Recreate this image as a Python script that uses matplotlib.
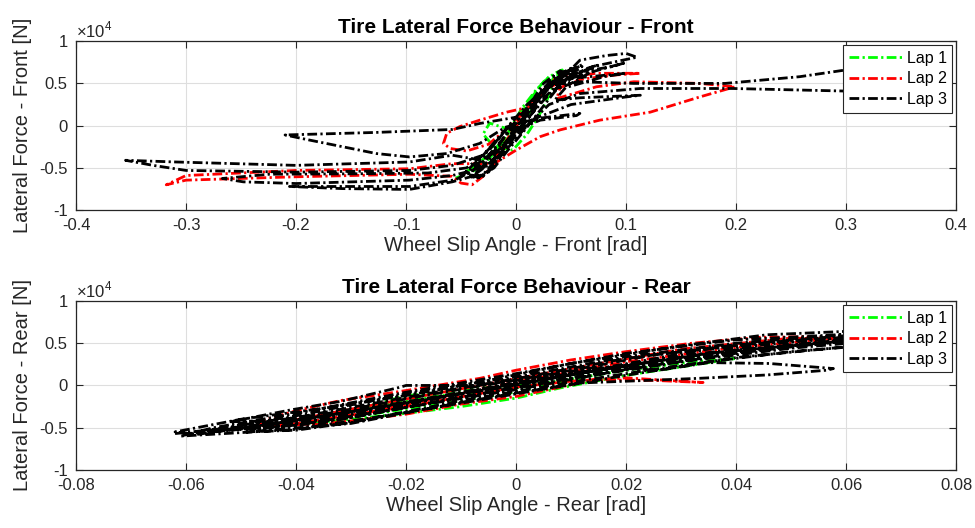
import numpy as np
import matplotlib
matplotlib.use("Agg")
import matplotlib.pyplot as plt
from matplotlib.ticker import FuncFormatter

# lap traces: (slip angle [rad], lateral force [N])
front_lap1 = [(-0.055, -6200), (-0.040, -5500), (-0.025, -4000), (-0.012, -2000), (-0.003, -200),
              (0.005, 1500), (0.015, 3500), (0.025, 5200), (0.035, 6200), (0.042, 6600), (0.038, 6000),
              (0.030, 5000), (0.020, 3200), (0.010, 1000), (0.000, -1000), (-0.005, -500), (-0.024, 300),
              (-0.030, -1000), (-0.020, -2500), (-0.003, -2900), (0.010, -1000), (0.020, 1000),
              (0.028, 3000), (0.036, 5500), (0.030, 5800), (0.018, 4200), (0.005, 2000), (-0.010, -1500),
              (-0.025, -3500), (-0.040, -5000), (-0.050, -5800)]

front_lap2 = [(-0.020, -4000), (-0.005, -1000), (0.010, 2000), (0.030, 4500), (0.050, 5800),
              (0.073, 6200), (0.113, 6200), (0.090, 6000), (0.060, 5500), (0.040, 4500), (0.037, 3200),
              (0.073, 4600), (0.107, 5200), (0.167, 5000), (0.199, 4600), (0.167, 3400), (0.122, 1600),
              (0.076, 650), (0.040, -500), (0.022, -1300), (0.000, -2900), (-0.020, -4500),
              (-0.058, -4500), (-0.097, -5100), (-0.200, -5300), (-0.300, -5900), (-0.318, -7000),
              (-0.300, -6450), (-0.200, -6050), (-0.097, -5750), (-0.058, -6000), (-0.050, -6800),
              (-0.040, -7000), (-0.030, -6000), (-0.015, -3500), (0.000, -500), (0.005, 2000),
              (-0.0085, 1600), (-0.033, 650), (-0.051, -100), (-0.063, -900), (-0.066, -2100),
              (-0.060, -2700), (-0.045, -3000), (-0.025, -2200), (-0.005, 0), (0.015, 3000),
              (0.035, 5500), (0.050, 6000)]

front_lap3 = [(-0.005, -1000), (0.010, 1500), (0.025, 4000), (0.045, 6000), (0.058, 7750),
              (0.082, 8300), (0.100, 8550), (0.110, 8100), (0.095, 7700), (0.070, 7000), (0.045, 5500),
              (0.025, 3000), (0.005, 0), (-0.015, -3000), (-0.035, -4000), (-0.058, -3500),
              (-0.097, -4300), (-0.200, -4700), (-0.309, -4300), (-0.355, -4100), (-0.330, -4700),
              (-0.300, -5300), (-0.200, -5500), (-0.097, -5300), (-0.058, -4700), (-0.030, -3500),
              (-0.010, -500), (0.010, 2500), (0.030, 4800), (0.058, 5200), (0.107, 5000), (0.190, 5000),
              (0.258, 5800), (0.300, 6600), (0.340, 7400), (0.350, 6000), (0.330, 4200), (0.298, 4100),
              (0.197, 4400), (0.113, 4400), (0.058, 3800), (0.030, 2500), (0.010, 0), (-0.010, -3000),
              (-0.030, -5000), (-0.058, -5900), (-0.097, -6450), (-0.200, -6850), (-0.248, -6650),
              (-0.267, -6250), (-0.224, -5750), (-0.150, -5700), (-0.080, -5600), (-0.045, -5000),
              (-0.025, -3000), (0.000, 1000), (-0.033, 260), (-0.058, -450), (-0.127, -800),
              (-0.210, -1100), (-0.188, -1700), (-0.127, -3300), (-0.097, -3700), (-0.063, -3300),
              (-0.033, -2100), (-0.010, -200), (0.019, 850), (0.058, 1450), (0.055, 1200), (0.022, 650),
              (0.000, -500), (-0.020, -3500), (-0.040, -6000), (-0.058, -6650), (-0.097, -7550),
              (-0.158, -7450), (-0.206, -7200), (-0.150, -7200), (-0.097, -7200), (-0.055, -6400),
              (-0.035, -5000), (-0.015, -2000), (0.005, 1000), (0.020, 3500), (0.040, 6000),
              (0.088, 7000), (0.100, 7500), (0.070, 6400), (0.050, 5600), (0.100, 6200), (0.080, 5800),
              (0.045, 4500), (0.035, 3000), (0.058, 3300), (0.113, 3600), (0.100, 3400), (0.050, 2500),
              (0.020, 1000), (-0.050, -6000), (-0.030, -3500), (-0.012, -1000), (0.000, 500),
              (0.015, 3000), (0.025, 5000), (0.040, 6500), (0.050, 6000), (0.035, 4000), (0.020, 1500),
              (0.008, -500), (-0.008, -3000), (-0.020, -5000), (-0.035, -6200), (-0.025, -5500),
              (-0.010, -2500), (0.005, 0), (0.018, 2500), (0.030, 4500), (0.048, 6500), (0.060, 7000),
              (0.040, 5200), (0.022, 2800), (0.005, -200), (-0.015, -3800), (-0.030, -6000),
              (-0.045, -5800), (-0.028, -4200), (-0.015, -2200), (-0.003, 0), (0.010, 2000),
              (0.022, 4000), (0.035, 5800), (0.050, 6800), (0.045, 6200), (0.030, 4600), (0.015, 2200),
              (0.002, -200), (-0.012, -2600), (-0.025, -4600), (-0.042, -6200), (-0.030, -5800),
              (-0.018, -4000), (-0.005, -1500), (0.008, 1200), (0.020, 3300), (0.032, 5200),
              (0.050, 6500), (0.060, 7200), (0.045, 6400), (0.030, 4800), (0.040, 5200), (0.065, 6800),
              (0.075, 7200), (0.055, 6000), (0.035, 4200), (0.050, 5000), (0.070, 6500)]

rear_lap1 = [(-0.040, -4600), (-0.030, -4000), (-0.020, -3300), (-0.010, -2500), (0.000, -1500),
             (0.008, -300), (0.020, 1200), (0.030, 2200), (0.040, 3200), (0.032, 2800), (0.020, 1800),
             (0.000, -300), (-0.015, -1300), (-0.030, -3000), (-0.020, -1200), (-0.010, -600),
             (0.005, 500), (0.025, 2600), (0.035, 3400), (0.020, 2000), (0.000, -800), (-0.020, -2800),
             (-0.035, -4200)]

rear_lap2 = [(0.058, 5800), (0.0444, 5700), (0.032, 5000), (0.020, 4000), (0.0098, 3000), (0.000, 1800),
             (-0.0065, 850), (-0.020, -600), (-0.032, -1800), (-0.040, -3000), (-0.048, -4500),
             (-0.044, -4750), (-0.036, -4600), (-0.030, -4200), (-0.020, -3400), (-0.010, -2200),
             (0.000, -1300), (0.008, -200), (0.014, 650), (0.025, 600), (0.034, 350), (0.030, 500),
             (0.020, 900), (0.010, 500), (0.000, -200), (-0.020, -2500), (-0.040, -4500), (-0.046, -4800),
             (-0.035, -4500), (-0.020, -2200), (0.000, 400), (0.020, 2800), (0.040, 4500), (0.058, 5500),
             (0.050, 5600), (0.030, 4300), (0.010, 2000), (-0.010, -400), (-0.030, -2800), (-0.042, -4300)]

rear_lap3 = [(-0.062, -5700), (-0.040, -4200), (-0.020, -2000), (0.000, 200), (0.020, 2400), (0.040, 4200),
             (0.062, 5500), (0.065, 6200), (0.040, 5400), (0.020, 3800), (0.000, 1400), (-0.020, -800),
             (-0.040, -3300), (-0.055, -5000), (-0.061, -6000), (-0.040, -5200), (-0.020, -3200),
             (0.000, -1000), (0.020, 1200), (0.040, 3300), (0.062, 4700), (0.063, 5800), (0.040, 4800),
             (0.020, 3200), (0.000, 800), (-0.020, -1400), (-0.040, -3800), (-0.050, -4700),
             (-0.048, -5200), (-0.030, -3800), (-0.010, -1400), (0.010, 800), (0.030, 2800), (0.050, 4400),
             (0.064, 5200), (0.062, 6000), (0.045, 5100), (0.025, 3600), (0.005, 1200), (-0.015, -1000),
             (-0.035, -3400), (-0.045, -4200), (-0.052, -4300), (-0.041, -2900), (-0.032, -1900),
             (-0.021, -200), (-0.020, 0), (-0.007, 0), (0.000, 600), (0.015, 2200), (0.026, 1800),
             (0.035, 2700), (0.046, 2600), (0.0577, 2000), (0.0565, 1800), (0.0456, 1240), (0.0335, 850),
             (0.026, 650), (0.012, 300), (0.000, -900), (-0.010, -2000), (-0.030, -4500), (-0.049, -5500),
             (-0.040, -5300), (-0.030, -4400), (-0.010, -1800), (0.010, 400), (0.030, 2400), (0.050, 4000),
             (0.0595, 4500), (0.066, 5000), (0.060, 6400), (0.0456, 6000), (0.030, 4700), (0.010, 2600),
             (-0.005, 600), (-0.020, -1200), (-0.035, -2700), (-0.050, -4000), (-0.062, -5500),
             (-0.058, -5800), (-0.045, -4600), (-0.025, -2600), (-0.005, -500), (0.015, 1800),
             (0.035, 3800), (0.055, 5000), (0.066, 5600), (0.064, 5400), (0.045, 4400), (0.025, 2600),
             (0.005, 400), (-0.015, -2000), (-0.035, -4400), (-0.045, -5000), (-0.035, -4000),
             (-0.015, -1600), (0.005, 700), (0.025, 3000), (0.045, 4800), (0.063, 5900),
             (0.061, 6100), (0.040, 5000), (0.020, 3400), (0.000, 1000), (-0.020, -1000),
             (-0.040, -3600), (-0.056, -5300), (-0.050, -5100), (-0.030, -3100), (-0.010, -800),
             (0.010, 1400), (0.030, 3200), (0.050, 4700), (0.064, 5700), (0.060, 5300), (0.040, 3800),
             (0.020, 1900), (0.000, -500), (-0.020, -2600), (-0.040, -4700), (-0.058, -5600),
             (-0.045, -4900), (-0.025, -2900), (-0.005, -300), (0.015, 2000), (0.035, 4300),
             (0.055, 5600)]

lap_labels = ["Lap 1", "Lap 2", "Lap 3"]
lap_colors = ["#00ff00", "#ff0000", "#000000"]
front_xticks = [-0.4, -0.3, -0.2, -0.1, 0, 0.1, 0.2, 0.3, 0.4]
rear_xticks = [-0.08, -0.06, -0.04, -0.02, 0, 0.02, 0.04, 0.06, 0.08]
force_ticks = [-10000, -5000, 0, 5000, 10000]

FG = "#262626"
plt.rcParams["font.family"] = ["Liberation Sans", "DejaVu Sans"]
plt.rcParams["mathtext.fontset"] = "custom"
plt.rcParams["mathtext.rm"] = "Liberation Sans"


def panel(ax, laps, xticks, xlabel, ylabel, title):
    for lap, lab, col in zip(laps, lap_labels, lap_colors):
        s, f = np.array(lap, dtype=float).T
        ax.plot(s, f, color=col, lw=2.0, ls=(0, (3.5, 1.2, 0.8, 1.2)), label=lab)
    ax.set_xlim(xticks[0], xticks[-1]); ax.set_ylim(force_ticks[0], force_ticks[-1])
    ax.set_xticks(xticks); ax.set_yticks(force_ticks)
    ax.xaxis.set_major_formatter(FuncFormatter(lambda v, p: f"{round(v, 6) + 0.0:g}"))
    ax.yaxis.set_major_formatter(FuncFormatter(lambda v, p: f"{v / 1e4 + 0.0:g}"))
    ax.grid(True, color="#dedede", lw=0.8); ax.set_axisbelow(True)
    ax.tick_params(direction="in", top=True, right=True, length=5, width=0.8,
                   colors=FG, labelsize=12)
    ax.tick_params(axis="x", pad=6); ax.tick_params(axis="y", pad=6)
    for sp in ax.spines.values():
        sp.set_color(FG); sp.set_linewidth(0.9)
    ax.set_xlabel(xlabel, fontsize=14.5, color=FG, labelpad=2)
    ax.set_ylabel(ylabel, fontsize=14.5, color=FG, labelpad=5)
    ax.set_title(title, fontsize=15, fontweight="bold", pad=6)
    ax.text(0.0, 1.005, r"$\times10^{4}$", transform=ax.transAxes, ha="left", va="bottom",
            fontsize=12, color=FG)
    leg = ax.legend(loc="upper right", fontsize=11.5, handlelength=3.3, handletextpad=0.3,
                    labelspacing=0.35, borderpad=0.35, borderaxespad=0.25, fancybox=False,
                    edgecolor=FG, framealpha=1)
    leg.get_frame().set_linewidth(0.8)


fig = plt.figure(figsize=(9.75, 5.28), dpi=100)
ax1 = fig.add_axes([0.078, 0.602, 0.9026, 0.320])
ax2 = fig.add_axes([0.078, 0.110, 0.9026, 0.320])
panel(ax1, [front_lap1, front_lap2, front_lap3], front_xticks, "Wheel Slip Angle - Front [rad]",
      "Lateral Force - Front [N]", "Tire Lateral Force Behaviour - Front")
panel(ax2, [rear_lap1, rear_lap2, rear_lap3], rear_xticks, "Wheel Slip Angle - Rear [rad]",
      "Lateral Force - Rear [N]", "Tire Lateral Force Behaviour - Rear")
fig.savefig("out.png", dpi=100)
